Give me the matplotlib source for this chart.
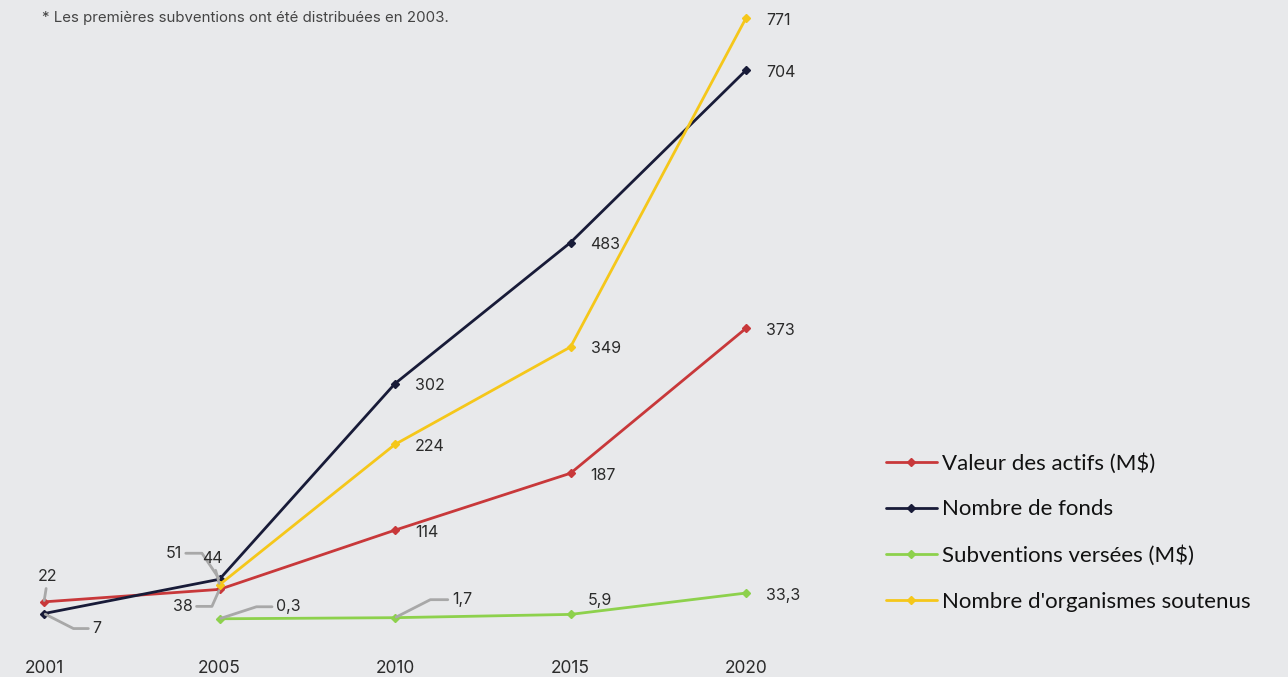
import matplotlib.pyplot as plt
import numpy as np

# data
years = ["2001", "2005", "2010", "2015", "2020"]
actifs = [22, 38, 114, 187, 373]              # Valeur des actifs (M$)
fonds = [7, 51, 302, 483, 704]                # Nombre de fonds
subventions = [None, 0.3, 1.7, 5.9, 33.3]     # Subventions versées (M$)
organismes = [None, 44, 224, 349, 771]        # Nombre d'organismes soutenus

names = ["Valeur des actifs (M$)", "Nombre de fonds",
         "Subventions versées (M$)", "Nombre d'organismes soutenus"]
colors = ["#c8383a", "#181b38", "#8dd14c", "#f5c71a"]

BG = "#e8e9eb"
LEADER = "#a8a8a8"
TXT = "#2b2b2b"


def fmt(v):
    return f"{v:g}".replace(".", ",")


fig = plt.figure(figsize=(12.88, 6.77), dpi=100, facecolor=BG)
ax = fig.add_axes([0, 0, 1, 1], facecolor=BG)
ax.set_xlim(-0.2507, 7.088)
ax.set_ylim(-74.4, 794.1)
ax.axis("off")

series = [actifs, fonds, subventions, organismes]
x = np.arange(len(years))
lines = []
for vals, name, col in zip(series, names, colors):
    xs = [xi for xi, v in zip(x, vals) if v is not None]
    ys = [v for v in vals if v is not None]
    ln, = ax.plot(xs, ys, color=col, lw=2, marker="D", ms=4.5, label=name,
                  solid_capstyle="round")
    lines.append(ln)

lab_kw = dict(fontsize=11.5, color=TXT, family="Inter", va="center")

# plain labels to the right of the points
plain = [(actifs, [2, 3, 4]), (fonds, [2, 3, 4]), (organismes, [2, 3, 4]),
         (subventions, [4])]
for vals, idxs in plain:
    for i in idxs:
        ax.annotate(fmt(vals[i]), (x[i], vals[i]), xytext=(20, -2),
                    textcoords="offset pixels", ha="left", **lab_kw)

ax.annotate(fmt(subventions[3]), (x[3], subventions[3]), xytext=(29, 14),
            textcoords="offset pixels", ha="center", **lab_kw)

# labels with grey leader lines: (series, index, offset, connection)
leaders = [
    (actifs, 0, (4, 25), "arc3"),
    (fonds, 0, (53, -15), "angle,angleA=0,angleB=-27,rad=0"),
    (fonds, 1, (-46, 26), "angle,angleA=0,angleB=124,rad=0"),
    (organismes, 1, (-7, 26), "arc3"),
    (actifs, 1, (-37, -17), "angle,angleA=0,angleB=-114,rad=0"),
    (subventions, 1, (69, 12), "angle,angleA=0,angleB=18,rad=0"),
    (subventions, 2, (67, 18), "angle,angleA=0,angleB=27,rad=0"),
]
for vals, i, off, conn in leaders:
    ax.annotate(fmt(vals[i]), (x[i], vals[i]), xytext=off,
                textcoords="offset pixels", ha="center",
                arrowprops=dict(arrowstyle="-", color=LEADER, lw=2,
                                connectionstyle=conn, shrinkA=1, shrinkB=1),
                **lab_kw)

# year labels along the bottom
for xi, yr in zip(x, years):
    ax.text(xi, -64, yr, ha="center", va="center", fontsize=12.5,
            color=TXT, family="Inter")

fig.text(42 / 1288, 1 - 18 / 677,
         "* Les premières subventions ont été distribuées en 2003.",
         ha="left", va="center", fontsize=10.8, color="#444444", family="Inter")

leg = ax.legend(handles=lines, loc="upper left",
                bbox_to_anchor=(877 / 1288, 1 - 444 / 677),
                bbox_transform=fig.transFigure, frameon=False,
                prop={"family": "Lato", "size": 16}, handlelength=2.3,
                handletextpad=0.22, labelspacing=1.16, borderaxespad=0)
for t in leg.get_texts():
    t.set_color("#111111")

fig.savefig("out.png", dpi=100, facecolor=BG)
